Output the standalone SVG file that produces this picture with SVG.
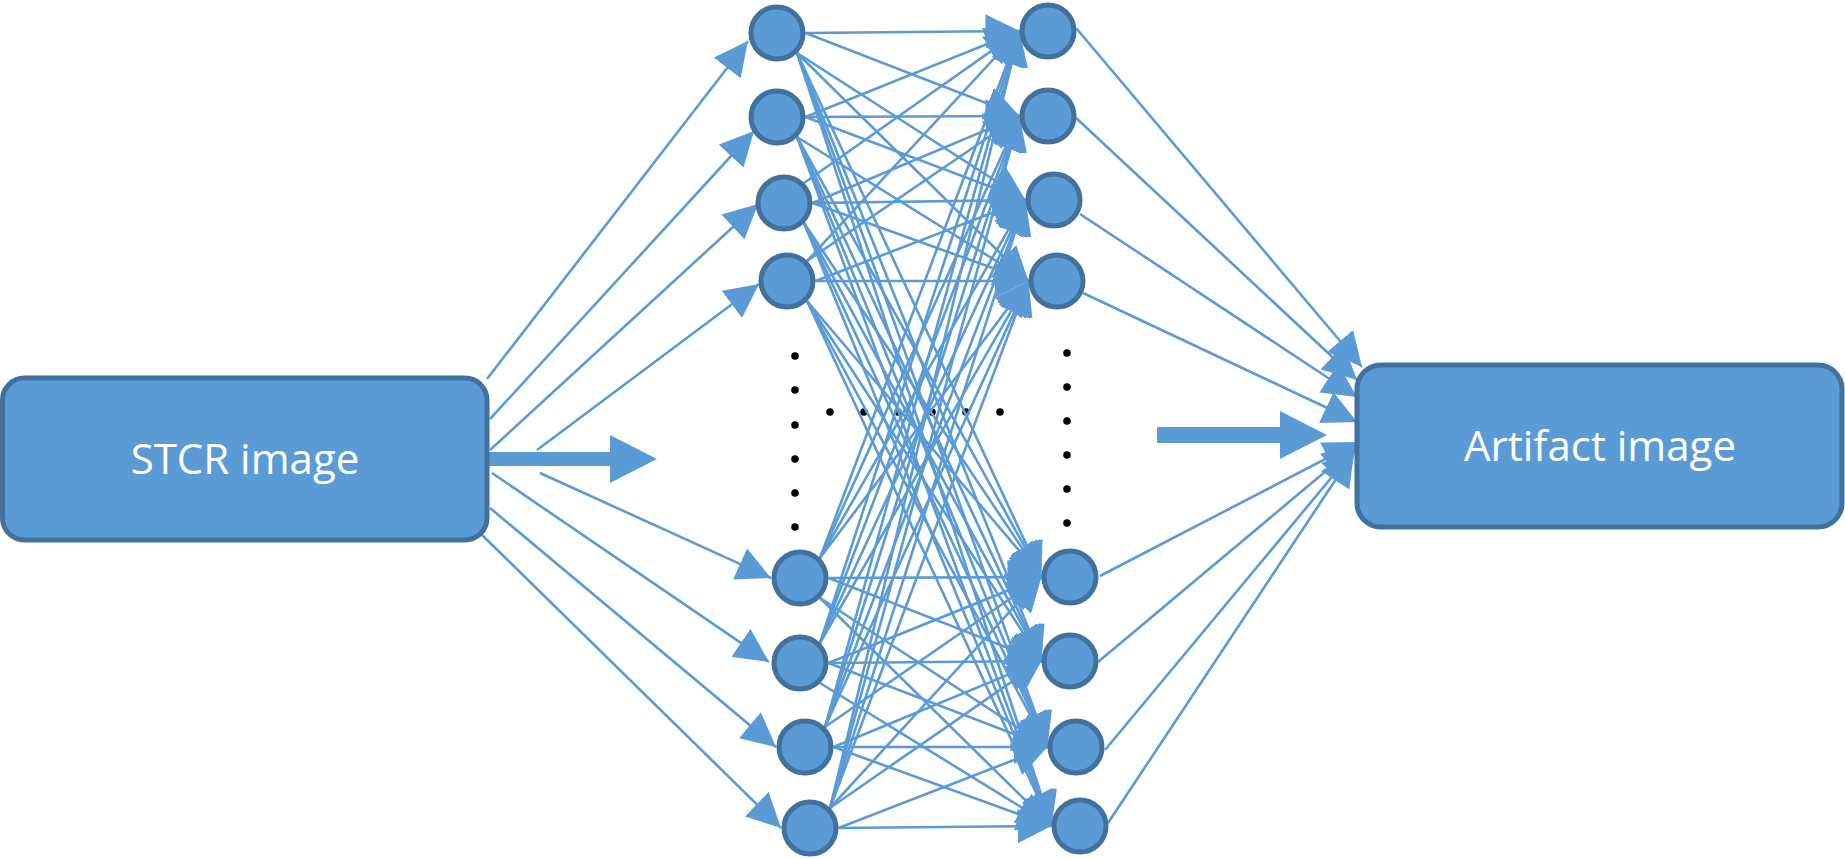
<svg xmlns="http://www.w3.org/2000/svg" width="1845" height="859" viewBox="0 0 1845 859">
<style>
.box{fill:#5B9BD5;stroke:#41719C;stroke-width:5}
.node{fill:#5B9BD5;stroke:#41719C;stroke-width:5}
.lbl{font-family:"Open Sans","Liberation Sans",sans-serif;font-size:42px;fill:#FFFFFF;text-anchor:middle}
.c line{stroke:#5B9BD5;stroke-width:2.6;fill:none}
.big{fill:#5B9BD5}
.dot{fill:#000000}
</style>
<defs>
<marker id="ah" markerUnits="userSpaceOnUse" markerWidth="34" markerHeight="34" viewBox="0 0 34 34" refX="34" refY="17" orient="auto">
<path d="M0,0 L34,17 L0,34 z" fill="#5B9BD5"/>
</marker>
</defs>
<rect width="1845" height="859" fill="#FFFFFF"/>
<g id="ellipsis">
<circle class="dot" cx="795" cy="356" r="3.8"/>
<circle class="dot" cx="795" cy="390" r="3.8"/>
<circle class="dot" cx="795" cy="425" r="3.8"/>
<circle class="dot" cx="795" cy="459" r="3.8"/>
<circle class="dot" cx="795" cy="493" r="3.8"/>
<circle class="dot" cx="795" cy="527" r="3.8"/>
<circle class="dot" cx="830" cy="412" r="3.8"/>
<circle class="dot" cx="864" cy="412" r="3.8"/>
<circle class="dot" cx="898" cy="412" r="3.8"/>
<circle class="dot" cx="932" cy="412" r="3.8"/>
<circle class="dot" cx="966" cy="412" r="3.8"/>
<circle class="dot" cx="1000" cy="412" r="3.8"/>
<circle class="dot" cx="1067" cy="353" r="3.8"/>
<circle class="dot" cx="1067" cy="387" r="3.8"/>
<circle class="dot" cx="1067" cy="421" r="3.8"/>
<circle class="dot" cx="1067" cy="455" r="3.8"/>
<circle class="dot" cx="1067" cy="489" r="3.8"/>
<circle class="dot" cx="1067" cy="523" r="3.8"/>
</g>
<g id="connectors">
<path class="big" d="M487,452 L610,452 L610,435 L657,459 L610,483 L610,466 L487,466 Z"/>
<path class="big" d="M1157,427 L1280,427 L1280,411 L1327,435 L1280,459 L1280,443 L1157,443 Z"/>
<g class="c" marker-end="url(#ah)">
<line x1="487" y1="379" x2="748" y2="41"/>
<line x1="490" y1="419" x2="754" y2="131"/>
<line x1="490" y1="450" x2="758" y2="204"/>
<line x1="537" y1="450" x2="759" y2="284"/>
<line x1="540" y1="473" x2="771" y2="578"/>
<line x1="492" y1="473" x2="769" y2="662"/>
<line x1="490" y1="508" x2="776" y2="747"/>
<line x1="480" y1="533" x2="781" y2="828"/>

<line x1="805.5" y1="33" x2="1019.5" y2="31"/>
<line x1="805.5" y1="33" x2="1019.5" y2="116"/>
<line x1="797" y1="53" x2="1025.5" y2="200"/>
<line x1="797" y1="53" x2="1028.5" y2="281"/>
<line x1="797" y1="53" x2="1041.5" y2="577"/>
<line x1="797" y1="53" x2="1041.5" y2="661"/>
<line x1="797" y1="53" x2="1047.5" y2="747"/>
<line x1="797" y1="53" x2="1051.5" y2="826"/>

<line x1="805.5" y1="117" x2="1019.5" y2="31"/>
<line x1="805.5" y1="117" x2="1019.5" y2="116"/>
<line x1="805.5" y1="117" x2="1025.5" y2="200"/>
<line x1="797" y1="137" x2="1028.5" y2="281"/>
<line x1="797" y1="137" x2="1041.5" y2="577"/>
<line x1="797" y1="137" x2="1041.5" y2="661"/>
<line x1="797" y1="137" x2="1047.5" y2="747"/>
<line x1="797" y1="137" x2="1051.5" y2="826"/>

<line x1="804" y1="183" x2="1019.5" y2="31"/>
<line x1="812.5" y1="203" x2="1019.5" y2="116"/>
<line x1="812.5" y1="203" x2="1025.5" y2="200"/>
<line x1="812.5" y1="203" x2="1028.5" y2="281"/>
<line x1="804" y1="223" x2="1041.5" y2="577"/>
<line x1="804" y1="223" x2="1041.5" y2="661"/>
<line x1="804" y1="223" x2="1047.5" y2="747"/>
<line x1="804" y1="223" x2="1051.5" y2="826"/>

<line x1="807" y1="261" x2="1019.5" y2="31"/>
<line x1="807" y1="261" x2="1019.5" y2="116"/>
<line x1="815.5" y1="281" x2="1025.5" y2="200"/>
<line x1="815.5" y1="281" x2="1028.5" y2="281"/>
<line x1="807" y1="301" x2="1041.5" y2="577"/>
<line x1="807" y1="301" x2="1041.5" y2="661"/>
<line x1="807" y1="301" x2="1047.5" y2="747"/>
<line x1="807" y1="301" x2="1051.5" y2="826"/>

<line x1="820" y1="558" x2="1019.5" y2="31"/>
<line x1="820" y1="558" x2="1019.5" y2="116"/>
<line x1="820" y1="558" x2="1025.5" y2="200"/>
<line x1="820" y1="558" x2="1028.5" y2="281"/>
<line x1="828.5" y1="578" x2="1041.5" y2="577"/>
<line x1="828.5" y1="578" x2="1041.5" y2="661"/>
<line x1="820" y1="598" x2="1047.5" y2="747"/>
<line x1="820" y1="598" x2="1051.5" y2="826"/>

<line x1="820" y1="643" x2="1019.5" y2="31"/>
<line x1="820" y1="643" x2="1019.5" y2="116"/>
<line x1="820" y1="643" x2="1025.5" y2="200"/>
<line x1="820" y1="643" x2="1028.5" y2="281"/>
<line x1="828.5" y1="663" x2="1041.5" y2="577"/>
<line x1="828.5" y1="663" x2="1041.5" y2="661"/>
<line x1="828.5" y1="663" x2="1047.5" y2="747"/>
<line x1="820" y1="683" x2="1051.5" y2="826"/>

<line x1="825" y1="727" x2="1019.5" y2="31"/>
<line x1="825" y1="727" x2="1019.5" y2="116"/>
<line x1="825" y1="727" x2="1025.5" y2="200"/>
<line x1="825" y1="727" x2="1028.5" y2="281"/>
<line x1="825" y1="727" x2="1041.5" y2="577"/>
<line x1="833.5" y1="747" x2="1041.5" y2="661"/>
<line x1="833.5" y1="747" x2="1047.5" y2="747"/>
<line x1="833.5" y1="747" x2="1051.5" y2="826"/>

<line x1="830" y1="808" x2="1019.5" y2="31"/>
<line x1="830" y1="808" x2="1019.5" y2="116"/>
<line x1="830" y1="808" x2="1025.5" y2="200"/>
<line x1="830" y1="808" x2="1028.5" y2="281"/>
<line x1="830" y1="808" x2="1041.5" y2="577"/>
<line x1="830" y1="808" x2="1041.5" y2="661"/>
<line x1="838.5" y1="828" x2="1047.5" y2="747"/>
<line x1="838.5" y1="828" x2="1051.5" y2="826"/>

<line x1="1076" y1="28" x2="1362" y2="367"/>
<line x1="1075" y1="117" x2="1357" y2="380"/>
<line x1="1080" y1="214" x2="1357" y2="397"/>
<line x1="1083" y1="293" x2="1357" y2="422"/>
<line x1="1100" y1="576" x2="1358" y2="442"/>
<line x1="1098" y1="662" x2="1357" y2="445"/>
<line x1="1105" y1="750" x2="1356" y2="448"/>
<line x1="1108" y1="823" x2="1354" y2="452"/>
</g>
</g>
<g id="stcr">
<rect class="box" x="2.5" y="378" width="484.5" height="162" rx="22" ry="22"/>
<text class="lbl" x="245" y="474">STCR image</text>
</g>
<g id="artifact">
<rect class="box" x="1357" y="365" width="485" height="162" rx="24" ry="24"/>
<text class="lbl" x="1600" y="461">Artifact image</text>
</g>
<g id="L1"><circle class="node" cx="777" cy="33" r="26"/></g>
<g id="L2"><circle class="node" cx="777" cy="117" r="26"/></g>
<g id="L3"><circle class="node" cx="784" cy="203" r="26"/></g>
<g id="L4"><circle class="node" cx="787" cy="281" r="26"/></g>
<g id="L5"><circle class="node" cx="800" cy="578" r="26"/></g>
<g id="L6"><circle class="node" cx="800" cy="663" r="26"/></g>
<g id="L7"><circle class="node" cx="805" cy="747" r="26"/></g>
<g id="L8"><circle class="node" cx="810" cy="828" r="26"/></g>
<g id="R1"><circle class="node" cx="1048" cy="31" r="26"/></g>
<g id="R2"><circle class="node" cx="1048" cy="116" r="26"/></g>
<g id="R3"><circle class="node" cx="1054" cy="200" r="26"/></g>
<g id="R4"><circle class="node" cx="1057" cy="281" r="26"/></g>
<g id="R5"><circle class="node" cx="1070" cy="577" r="26"/></g>
<g id="R6"><circle class="node" cx="1070" cy="661" r="26"/></g>
<g id="R7"><circle class="node" cx="1076" cy="747" r="26"/></g>
<g id="R8"><circle class="node" cx="1080" cy="826" r="26"/></g>
</svg>
